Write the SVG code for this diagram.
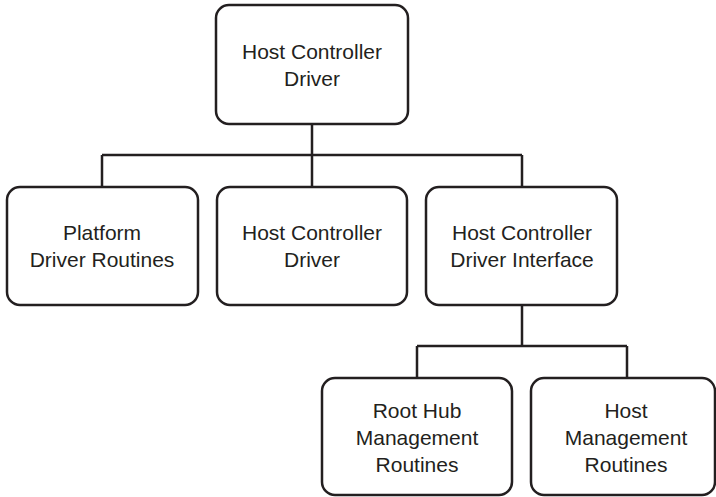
<svg xmlns="http://www.w3.org/2000/svg" width="716" height="497" viewBox="0 0 716 497">
<style>
.box{fill:#fff;stroke:#231f20;stroke-width:2.5}
.ln{fill:none;stroke:#231f20;stroke-width:2.5}
text{font-family:"Liberation Sans",Arial,sans-serif;font-size:21px;fill:#231f20;text-anchor:middle}
</style>
<rect width="716" height="497" fill="#fff"/>
<g id="connectors">
<path class="ln" d="M312 124V155M102 155H522M102 155V187M312 155V187M522 155V187"/>
<path class="ln" d="M522 305V346M417 346H627M417 346V378M627 346V378"/>
</g>
<g id="hcd-top">
<rect class="box" x="216" y="5" width="192" height="119" rx="13"/>
<text x="312" y="59">Host Controller</text>
<text x="312" y="86">Driver</text>
</g>
<g id="platform">
<rect class="box" x="7" y="187" width="191" height="118" rx="13"/>
<text x="102" y="240">Platform</text>
<text x="102" y="267">Driver Routines</text>
</g>
<g id="hcd">
<rect class="box" x="217" y="187" width="190" height="118" rx="13"/>
<text x="312" y="240">Host Controller</text>
<text x="312" y="267">Driver</text>
</g>
<g id="hcdi">
<rect class="box" x="426" y="187" width="191" height="118" rx="13"/>
<text x="522" y="240">Host Controller</text>
<text x="522" y="267">Driver Interface</text>
</g>
<g id="roothub">
<rect class="box" x="322" y="378" width="190" height="117" rx="13"/>
<text x="417" y="418">Root Hub</text>
<text x="417" y="445">Management</text>
<text x="417" y="472">Routines</text>
</g>
<g id="hostmgmt">
<rect class="box" x="531" y="378" width="184" height="117" rx="13"/>
<text x="626" y="418">Host</text>
<text x="626" y="445">Management</text>
<text x="626" y="472">Routines</text>
</g>
</svg>
